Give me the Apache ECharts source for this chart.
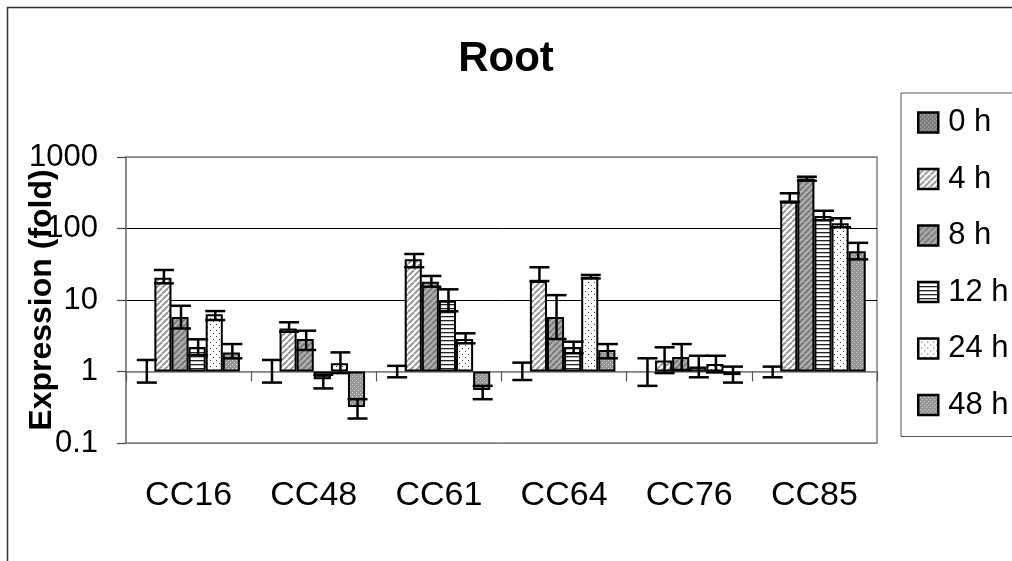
<!DOCTYPE html>
<html>
<head>
<meta charset="utf-8">
<script src="https://cdn.jsdelivr.net/npm/echarts@6/dist/echarts.min.js"></script>
<style>
  html, body { margin: 0; padding: 0; background: #fff; }
  #main { width: 1012px; height: 561px; }
</style>
</head>
<body>
<div id="main"></div>
<script>
// 数据
const categories = ['CC16', 'CC48', 'CC61', 'CC64', 'CC76', 'CC85'];
const seriesNames = ['0 h', '4 h', '8 h', '12 h', '24 h', '48 h'];
const yTickLabels = ['0.1', '1', '10', '100', '1000'];

const h0 = [1, 1, 1, 1, 1, 1];
const h4 = [20.5, 4.0, 37, 18.4, 1.42, 237];
const h8 = [5.8, 2.85, 18, 5.8, 1.6, 500];
const h12 = [2.2, 0.78, 9.8, 2.2, 1.17, 150];
const h24 = [6.3, 1.3, 2.85, 21.2, 1.27, 118];
const h48 = [1.85, 0.32, 0.55, 2.0, 0.89, 48];

// 误差线 (下限 / 上限)
const lo0 = [0.70, 0.70, 0.83, 0.76, 0.63, 0.83];
const hi0 = [1.45, 1.45, 1.2, 1.33, 1.53, 1.17];
const lo4 = [17.1, 3.6, 28.7, 18.4, 0.95, 237];
const hi4 = [26.3, 4.88, 44, 28.7, 2.18, 311];
const lo8 = [4.0, 2.0, 15.3, 2.85, 1.05, 466];
const hi8 = [8.3, 3.72, 21.7, 11.7, 2.42, 530];
const lo12 = [1.70, 0.58, 6.95, 1.80, 0.83, 131];
const hi12 = [2.82, 0.9, 14.1, 2.61, 1.66, 177];
const lo24 = [5.25, 0.95, 2.48, 20.0, 0.97, 104];
const hi24 = [7.0, 1.85, 3.42, 22.4, 1.66, 139];
const lo48 = [1.53, 0.22, 0.41, 1.53, 0.70, 37];
const hi48 = [2.42, 0.41, 0.63, 2.42, 1.17, 63];

const values = [h0, h4, h8, h12, h24, h48];
const lows = [lo0, lo4, lo8, lo12, lo24, lo48];
const highs = [hi0, hi4, hi8, hi12, hi24, hi48];

const FONT = 'Liberation Sans, Arial, sans-serif';
const GAP = 0.18;

// 填充图案
function makePattern(size, bg, draw) {
  const c = document.createElement('canvas');
  c.width = size; c.height = size;
  const ctx = c.getContext('2d');
  ctx.fillStyle = bg;
  ctx.fillRect(0, 0, size, size);
  draw(ctx, size);
  return { image: c, repeat: 'repeat' };
}
function diag(color, w) {
  return (ctx, s) => {
    ctx.strokeStyle = color; ctx.lineWidth = w;
    for (let k = -1; k <= 1; k++) {
      ctx.beginPath();
      ctx.moveTo(k * s, s);
      ctx.lineTo(k * s + s, 0);
      ctx.stroke();
    }
  };
}
function dots(color, pts, r) {
  return (ctx) => {
    ctx.fillStyle = color;
    pts.forEach(p => ctx.fillRect(p[0], p[1], r, r));
  };
}
const fills = [
  makePattern(4, '#7a7a7a', dots('#d8d8d8', [[0, 0], [2, 2]], 1)),
  makePattern(6, '#ffffff', diag('#999999', 2)),
  makePattern(6, '#b0b0b0', diag('#7a7a7a', 2)),
  makePattern(4, '#ffffff', (ctx) => { ctx.fillStyle = '#222'; ctx.fillRect(0, 0, 4, 1.3); }),
  makePattern(6, '#ffffff', dots('#444', [[0, 0], [3, 3]], 1)),
  makePattern(4, '#959595', dots('#dadada', [[0, 0], [2, 2]], 1))
];

const barSeries = seriesNames.map((name, i) => ({
  name: name,
  type: 'bar',
  xAxisIndex: 0,
  barGap: '0%',
  barCategoryGap: (GAP * 100) + '%',
  itemStyle: { color: fills[i], borderColor: '#000', borderWidth: 2 },
  data: i === 0
    ? values[i].map(v => ({ value: v, itemStyle: { borderWidth: 0 } }))
    : values[i],
  z: 2
}));

const errData = [];
values.forEach((arr, s) => {
  arr.forEach((v, c) => errData.push([c, s, lows[s][c], highs[s][c]]));
});

const errSeries = {
  type: 'custom',
  xAxisIndex: 0,
  z: 5,
  silent: true,
  encode: { x: 0, y: [2, 3] },
  data: errData,
  renderItem: function (params, api) {
    const cat = api.value(0);
    const band = api.size([1, 0])[0];
    const bw = band * (1 - GAP) / 6;
    const x = api.coord([cat, 1])[0] + (api.value(1) - 2.5) * bw + 1;
    const yl = api.coord([cat, api.value(2)])[1];
    const yh = api.coord([cat, api.value(3)])[1];
    const hw = 10;
    const st = { stroke: '#000', lineWidth: 2.5 };
    return {
      type: 'group',
      children: [
        { type: 'line', shape: { x1: x, y1: yl, x2: x, y2: yh }, style: st },
        { type: 'line', shape: { x1: x - hw, y1: yh, x2: x + hw, y2: yh }, style: st },
        { type: 'line', shape: { x1: x - hw, y1: yl, x2: x + hw, y2: yl }, style: st }
      ]
    };
  }
};

const chart = echarts.init(document.getElementById('main'), null, { renderer: 'canvas' });

const option = {
  backgroundColor: '#fff',
  animation: false,
  title: {
    text: 'Root',
    left: 'center',
    top: 33,
    textStyle: { fontFamily: FONT, fontSize: 42, fontWeight: 'bold', color: '#000' }
  },
  graphic: [{
    type: 'rect',
    shape: { x: 7.5, y: 7.5, width: 1200, height: 800 },
    style: { fill: 'none', stroke: '#333', lineWidth: 1.5 },
    z: -1
  }],
  legend: {
    orient: 'vertical',
    left: 901,
    top: 93,
    padding: [14, 40, 16, 16],
    itemGap: 25.5,
    itemWidth: 20,
    itemHeight: 20,
    borderColor: '#555',
    borderWidth: 1,
    data: seriesNames,
    icon: 'rect',
    itemStyle: { borderColor: '#000', borderWidth: 2.5 },
    textStyle: { fontFamily: FONT, fontSize: 31, color: '#000', padding: [0, 0, 0, 5] }
  },
  grid: {
    left: 126, top: 157, width: 751, height: 286,
    outerBoundsMode: 'none',
    containLabel: false,
    show: true, borderColor: '#808080', borderWidth: 1.5, backgroundColor: 'transparent'
  },
  xAxis: [{
    type: 'category',
    data: categories,
    position: 'bottom',
    axisLine: { show: false },
    axisTick: { show: false },
    axisLabel: { fontFamily: FONT, fontSize: 34, color: '#000', margin: 36 }
  }, {
    type: 'category',
    data: categories,
    position: 'bottom',
    offset: -71.5,
    axisLine: { show: true, lineStyle: { color: '#808080', width: 1.5 } },
    axisTick: { show: true, length: 10, lineStyle: { color: '#555', width: 1.2 } },
    axisLabel: { show: false }
  }],
  yAxis: {
    type: 'log',
    logBase: 10,
    min: 0.1,
    max: 1000,
    name: 'Expression (fold)',
    nameLocation: 'middle',
    nameRotate: 90,
    nameGap: 68,
    nameMoveOverlap: false,
    nameTextStyle: { fontFamily: FONT, fontSize: 32, fontWeight: 'bold', color: '#000' },
    axisLine: { show: true, lineStyle: { color: '#808080', width: 1.5 } },
    axisTick: { show: true, length: 9, lineStyle: { color: '#444', width: 1.2 } },
    axisLabel: {
      fontFamily: FONT, fontSize: 31, color: '#000', margin: 28,
      formatter: (v, i) => yTickLabels[i] !== undefined ? yTickLabels[i] : String(v)
    },
    splitLine: {
      show: true,
      lineStyle: { color: ['#808080', '#808080', '#000', '#000', '#808080'], width: 1 }
    }
  },
  series: barSeries.concat([errSeries])
};

chart.setOption(option);
</script>
</body>
</html>
